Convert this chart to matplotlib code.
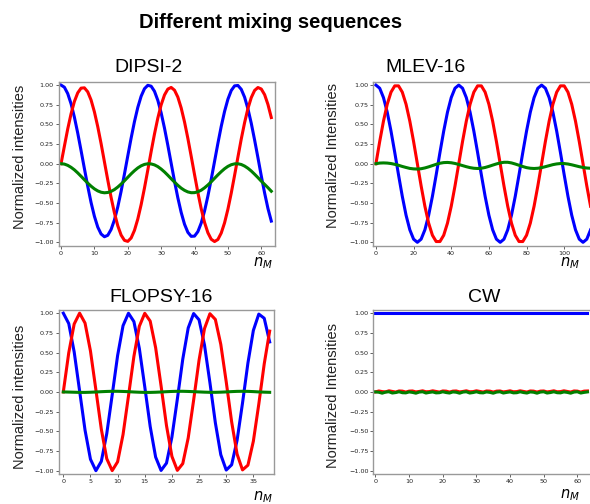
import matplotlib.pyplot as plt

# DIPSI-2 (every mixing cycle)
dipsi_n = list(range(64))
dipsi_blue = [1.00, 0.973, 0.892, 0.763, 0.592, 0.390, 0.167, -0.062, -0.287, -0.494,
              -0.669, -0.806, -0.894, -0.929, -0.911, -0.837, -0.715, -0.550, -0.351,
              -0.131, 0.099, 0.325, 0.535, 0.716, 0.858, 0.954, 0.997, 0.986, 0.921,
              0.806, 0.646, 0.452, 0.234, 0.005, -0.223, -0.434, -0.620, -0.770,
              -0.873, -0.924, -0.921, -0.864, -0.755, -0.602, -0.412, -0.199, 0.030,
              0.259, 0.475, 0.665, 0.820, 0.931, 0.990, 0.995, 0.946, 0.846, 0.698,
              0.514, 0.301, 0.076, -0.156, -0.373, -0.570, -0.730]
dipsi_red = [0.0, 0.222, 0.441, 0.634, 0.791, 0.901, 0.961, 0.965, 0.914, 0.810,
             0.659, 0.471, 0.256, 0.024, -0.207, -0.429, -0.626, -0.789, -0.908,
             -0.975, -0.988, -0.945, -0.848, -0.704, -0.521, -0.309, -0.080, 0.154,
             0.378, 0.580, 0.749, 0.874, 0.949, 0.970, 0.935, 0.847, 0.709, 0.531,
             0.322, 0.094, -0.139, -0.366, -0.573, -0.747, -0.878, -0.961, -0.990,
             -0.964, -0.882, -0.752, -0.579, -0.374, -0.148, 0.084, 0.314, 0.522,
             0.702, 0.841, 0.932, 0.969, 0.950, 0.878, 0.753, 0.587]
dipsi_green = [0.0, -0.005, -0.021, -0.046, -0.078, -0.117, -0.160, -0.204, -0.247,
               -0.286, -0.320, -0.346, -0.363, -0.370, -0.366, -0.352, -0.329, -0.297,
               -0.259, -0.217, -0.173, -0.129, -0.089, -0.054, -0.027, -0.009, -0.001,
               -0.003, -0.015, -0.037, -0.068, -0.105, -0.147, -0.191, -0.234, -0.275,
               -0.311, -0.339, -0.359, -0.369, -0.368, -0.357, -0.337, -0.307, -0.271,
               -0.230, -0.186, -0.142, -0.101, -0.064, -0.034, -0.013, -0.002, -0.001,
               -0.010, -0.030, -0.058, -0.093, -0.134, -0.177, -0.222, -0.263, -0.305,
               -0.350]

# MLEV-16 (sampled every 2 mixing cycles)
mlev_n = [0, 2, 4, 6, 8, 10, 12, 14, 16, 18, 20, 22, 24, 26, 28, 30, 32, 34, 36,
          38, 40, 42, 44, 46, 48, 50, 52, 54, 56, 58, 60, 62, 64, 66, 68, 70, 72,
          74, 76, 78, 80, 82, 84, 86, 88, 90, 92, 94, 96, 98, 100, 102, 104, 106,
          108, 110, 112, 114]
mlev_blue = [1.0, 0.96, 0.841, 0.655, 0.415, 0.142, -0.142, -0.415, -0.655, -0.841,
             -0.96, -1.0, -0.96, -0.841, -0.655, -0.415, -0.142, 0.142, 0.415, 0.655,
             0.841, 0.96, 1.0, 0.96, 0.841, 0.655, 0.415, 0.142, -0.142, -0.415,
             -0.655, -0.841, -0.96, -1.0, -0.96, -0.841, -0.655, -0.415, -0.142,
             0.142, 0.415, 0.655, 0.841, 0.96, 1.0, 0.96, 0.841, 0.655, 0.415, 0.142,
             -0.142, -0.415, -0.655, -0.841, -0.96, -1.0, -0.96, -0.841]
mlev_red = [0.0, 0.282, 0.541, 0.756, 0.91, 0.99, 0.99, 0.91, 0.756, 0.541, 0.282,
            0.0, -0.282, -0.541, -0.756, -0.91, -0.99, -0.99, -0.91, -0.756, -0.541,
            -0.282, 0.0, 0.282, 0.541, 0.756, 0.91, 0.99, 0.99, 0.91, 0.756, 0.541,
            0.282, 0.0, -0.282, -0.541, -0.756, -0.91, -0.99, -0.99, -0.91, -0.756,
            -0.541, -0.282, 0.0, 0.282, 0.541, 0.756, 0.91, 0.99, 0.99, 0.91, 0.756,
            0.541, 0.282, 0.0, -0.282, -0.541]
mlev_green = [0.0, 0.008, 0.010, 0.008, 0.002, -0.008, -0.020, -0.035, -0.048,
              -0.060, -0.066, -0.068, -0.064, -0.054, -0.040, -0.024, -0.008, 0.006,
              0.014, 0.016, 0.012, 0.003, -0.010, -0.024, -0.038, -0.050, -0.058,
              -0.061, -0.058, -0.048, -0.034, -0.018, -0.003, 0.010, 0.018, 0.018,
              0.010, -0.004, -0.020, -0.036, -0.050, -0.058, -0.061, -0.058, -0.050,
              -0.038, -0.025, -0.012, -0.003, 0.002, 0.002, -0.004, -0.014, -0.026,
              -0.038, -0.048, -0.055, -0.058]

# FLOPSY-16 (every mixing cycle)
flopsy_n = list(range(39))
flopsy_blue = [1.0, 0.868, 0.508, 0.013, -0.485, -0.855, -1.0, -0.881, -0.530,
               -0.039, 0.462, 0.841, 0.999, 0.893, 0.552, 0.065, -0.439, -0.827,
               -0.997, -0.904, -0.573, -0.091, 0.416, 0.812, 0.995, 0.915, 0.594,
               0.117, -0.392, -0.797, -0.992, -0.925, -0.615, -0.142, 0.368, 0.781,
               0.988, 0.935, 0.635]
flopsy_red = [0.0, 0.496, 0.862, 1.0, 0.874, 0.519, 0.026, -0.474, -0.848, -0.999,
              -0.887, -0.541, -0.052, 0.451, 0.834, 0.998, 0.899, 0.562, 0.078,
              -0.427, -0.819, -0.996, -0.910, -0.584, -0.104, 0.404, 0.804, 0.993,
              0.920, 0.604, 0.129, -0.380, -0.789, -0.990, -0.930, -0.625, -0.155,
              0.356, 0.772]
flopsy_green = [0.0, -0.002, -0.004, -0.006, -0.006, -0.004, -0.001, 0.003, 0.006,
                0.008, 0.008, 0.006, 0.003, -0.001, -0.004, -0.006, -0.006, -0.004,
                -0.001, 0.003, 0.006, 0.008, 0.008, 0.006, 0.003, 0.0, -0.003,
                -0.005, -0.005, -0.003, 0.0, 0.004, 0.007, 0.008, 0.007, 0.004, 0.0,
                -0.003, -0.005]

# CW (every mixing cycle)
cw_n = list(range(64))
cw_blue = [1.0, 1.0, 1.0, 1.0, 1.0, 1.0, 1.0, 1.0, 1.0, 1.0, 1.0, 1.0, 1.0, 1.0,
           1.0, 1.0, 1.0, 1.0, 1.0, 1.0, 1.0, 1.0, 1.0, 1.0, 1.0, 1.0, 1.0, 1.0,
           1.0, 1.0, 1.0, 1.0, 1.0, 1.0, 1.0, 1.0, 1.0, 1.0, 1.0, 1.0, 1.0, 1.0,
           1.0, 1.0, 1.0, 1.0, 1.0, 1.0, 1.0, 1.0, 1.0, 1.0, 1.0, 1.0, 1.0, 1.0,
           1.0, 1.0, 1.0, 1.0, 1.0, 1.0, 1.0, 1.0]
cw_red = [0.0, 0.012, 0.004, 0.0, 0.014, 0.006, -0.002, 0.012, 0.010, -0.002,
          0.010, 0.012, 0.0, 0.006, 0.014, 0.002, 0.004, 0.014, 0.006, -0.002,
          0.012, 0.010, -0.002, 0.010, 0.012, 0.0, 0.006, 0.014, 0.002, 0.004,
          0.014, 0.006, -0.002, 0.012, 0.010, -0.002, 0.010, 0.012, 0.0, 0.006,
          0.014, 0.002, 0.004, 0.014, 0.006, -0.002, 0.012, 0.010, -0.002, 0.010,
          0.012, 0.0, 0.006, 0.014, 0.002, 0.004, 0.014, 0.006, -0.002, 0.012,
          0.010, -0.002, 0.010, 0.012]
cw_green = [0.0, -0.004, -0.016, -0.002, 0.002, -0.014, -0.008, 0.002, -0.010,
            -0.012, 0.0, -0.006, -0.016, -0.002, 0.002, -0.014, -0.006, 0.0,
            -0.012, -0.010, 0.002, -0.008, -0.014, 0.0, -0.004, -0.016, -0.002,
            0.002, -0.014, -0.008, 0.002, -0.010, -0.012, 0.0, -0.006, -0.016,
            -0.002, 0.002, -0.014, -0.006, 0.0, -0.012, -0.010, 0.002, -0.008,
            -0.014, 0.0, -0.004, -0.016, -0.002, 0.002, -0.014, -0.008, 0.002,
            -0.010, -0.012, 0.0, -0.006, -0.016, -0.002, 0.002, -0.014, -0.006, 0.0]

yticks = [-1.0, -0.75, -0.5, -0.25, 0.0, 0.25, 0.5, 0.75, 1.0]

W, H = 590, 504
fig = plt.figure(figsize=(W / 100, H / 100), dpi=100)


def px_axes(left, top, right, bottom):
    return fig.add_axes([left / W, 1 - bottom / H, (right - left) / W, (bottom - top) / H])


panels = [
    # title, axes box (px), title pos, ylabel, ylabel pos, xlabel pos, data, xlim, xticks, ylim
    ("DIPSI-2", (58.7, 81.7, 275.3, 245.7), (148.7, 72), "Normalized intensities", (20, 156.5),
     (273, 266), (dipsi_n, dipsi_blue, dipsi_red, dipsi_green), (-0.7, 64.2), range(0, 61, 10), (-1.043, 1.043)),
    ("MLEV-16", (373.3, 81.7, 591.5, 245.7), (425.7, 72), "Normalized Intensities", (333, 155.5),
     (580, 266), (mlev_n, mlev_blue, mlev_red, mlev_green), (-1.4, 114.5), range(0, 101, 20), (-1.043, 1.043)),
    ("FLOPSY-16", (58.7, 310, 274, 474), (160.8, 301.7), "Normalized intensities", (20, 396.5),
     (273, 500), (flopsy_n, flopsy_blue, flopsy_red, flopsy_green), (-0.85, 38.8), range(0, 36, 5), (-1.042, 1.04)),
    ("CW", (373.3, 310, 591.5, 474), (484.5, 301.7), "Normalized Intensities", (333, 395.5),
     (580, 498), (cw_n, cw_blue, cw_red, cw_green), (-0.65, 64.2), range(0, 61, 10), (-1.042, 1.04)),
]

for title, box, tpos, ylab, ypos, xpos, data, xlim, xt, ylim in panels:
    ax = px_axes(*box)
    n, blue, red, green = data
    ax.plot(n, blue, color='blue', linewidth=2.2)
    ax.plot(n, red, color='red', linewidth=2.2)
    ax.plot(n, green, color='green', linewidth=2.2)
    ax.set_xlim(*xlim)
    ax.set_ylim(*ylim)
    ax.set_xticks(list(xt))
    ax.set_yticks(yticks)
    ax.set_yticklabels([f"{v:.2f}".replace('-', '\u2212') for v in yticks])
    ax.tick_params(labelsize=4.6, length=2, width=0.5, pad=1.5, colors='#222222')
    for s in ax.spines.values():
        s.set_color('#999999')
        s.set_linewidth(1.0)
    fig.text(tpos[0] / W, 1 - tpos[1] / H, title, ha='center', va='baseline',
             fontsize=14, family='Liberation Sans')
    fig.text(ypos[0] / W, 1 - ypos[1] / H, ylab, ha='center', va='center', rotation=90,
             fontsize=10.5, family='Liberation Sans', color='#222222')
    fig.text(xpos[0] / W, 1 - xpos[1] / H, r'$n_M$', ha='right', va='baseline', fontsize=10.5)

fig.text(270.5 / W, 1 - 28 / H, "Different mixing sequences", ha='center', va='baseline',
         fontsize=14.5, fontweight='bold', family='Liberation Sans')

fig.savefig('out.png', dpi=100)
